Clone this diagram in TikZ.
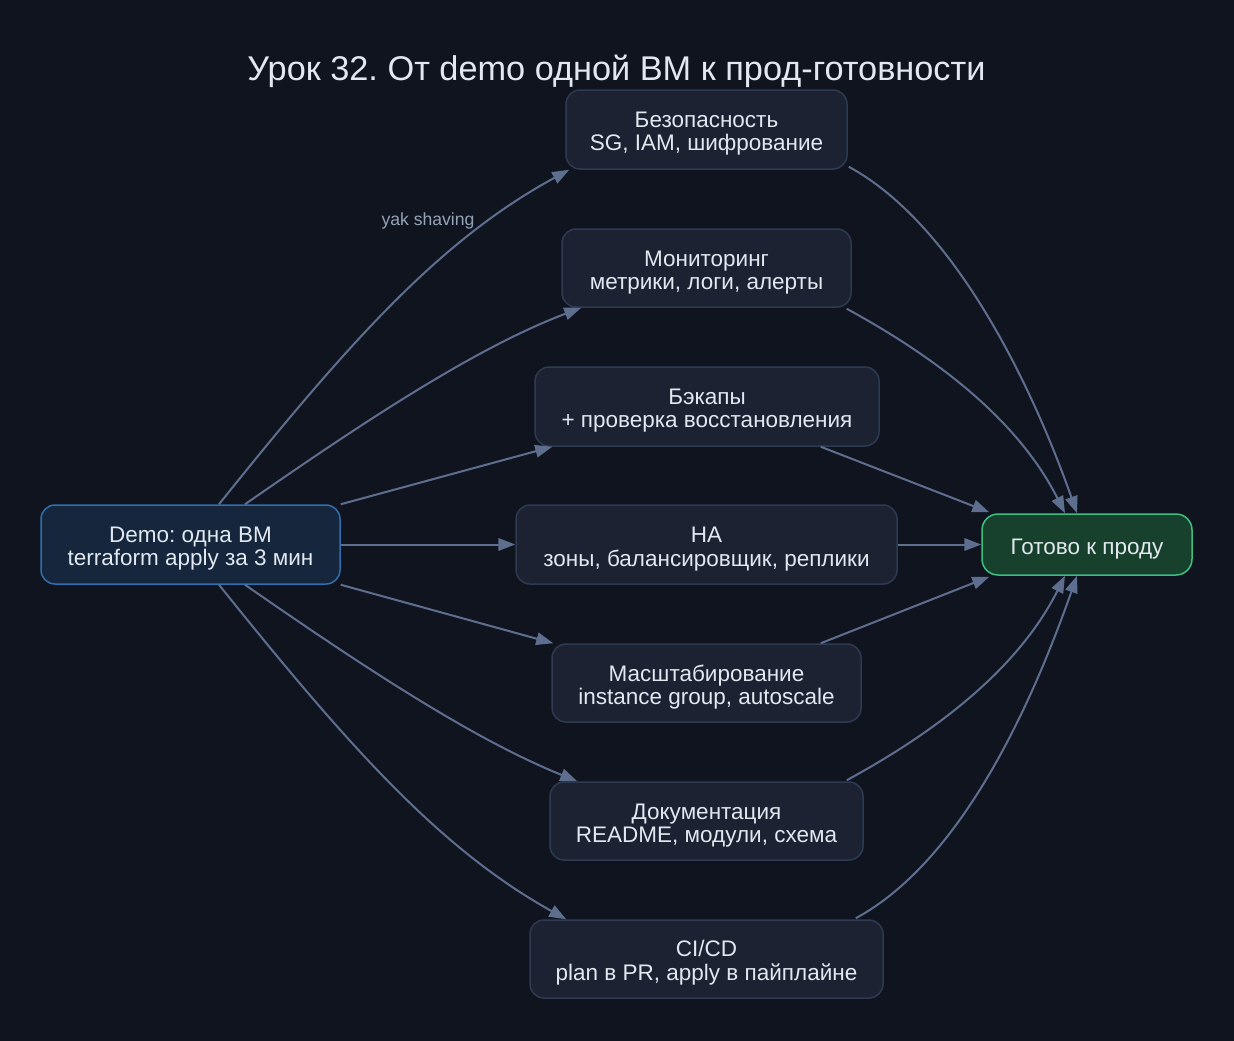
\documentclass[tikz,border=0pt]{standalone}
\usepackage{fontspec}
\setmainfont{Liberation Sans}
\usetikzlibrary{arrows.meta,calc}
\definecolor{bg}{HTML}{10141F}
\definecolor{nodefill}{HTML}{1C2232}
\definecolor{nodedraw}{HTML}{2E3A52}
\definecolor{demofill}{HTML}{15263D}
\definecolor{demodraw}{HTML}{2F6FB0}
\definecolor{donefill}{HTML}{17412C}
\definecolor{donedraw}{HTML}{3FBF7F}
\definecolor{edgecol}{HTML}{5E6E8E}
\definecolor{txt}{HTML}{E2E8F0}
\definecolor{lbl}{HTML}{94A3B8}
\newcommand{\twolines}[2]{\begin{tabular}{@{}c@{}}\rule{0pt}{26.5pt}#1\\#2\end{tabular}}
\newcommand{\oneline}[1]{\rule[-5pt]{0pt}{29.7pt}#1}
\begin{document}
\frenchspacing
\begin{tikzpicture}[x=1pt,y=-1pt,
  box/.style={draw=nodedraw,fill=nodefill,line width=1.5pt,rounded corners=14pt,
    text=txt,inner sep=0pt,
    font=\fontsize{22.5}{23.3}\selectfont\frenchspacing},
  edge/.style={draw=edgecol,line width=2pt,-{Triangle[length=17pt,width=12.5pt]}}]
\useasboundingbox[fill=bg] (0,0) rectangle (1234,1041);
\node[text=txt,font=\fontsize{34.3}{38}\selectfont\frenchspacing,anchor=base,inner sep=0pt] (title) at (616.5,81) {Урок 32. От demo одной ВМ к прод-готовности};
\node[box,draw=demodraw,fill=demofill,minimum width=299pt,minimum height=79pt] (demo) at (190.5,544.5) {\twolines{Demo: одна ВМ}{terraform apply за 3 мин}};
\node[box,minimum width=281pt,minimum height=79pt] (sec) at (706.5,129.5) {\twolines{Безопасность}{SG, IAM, шифрование}};
\node[box,minimum width=289pt,minimum height=78pt] (mon) at (706.5,268) {\twolines{Мониторинг}{метрики, логи, алерты}};
\node[box,minimum width=344pt,minimum height=79pt] (bak) at (707,406.5) {\twolines{Бэкапы}{+ проверка восстановления}};
\node[box,minimum width=381pt,minimum height=79pt] (ha) at (706.5,544.5) {\twolines{HA}{зоны, балансировщик, реплики}};
\node[box,minimum width=309pt,minimum height=78pt] (scale) at (706.5,683) {\twolines{Масштабирование}{instance group, autoscale}};
\node[box,minimum width=313pt,minimum height=78pt] (doc) at (706.5,821) {\twolines{Документация}{README, модули, схема}};
\node[box,minimum width=353pt,minimum height=78pt] (cicd) at (706.5,959) {\twolines{CI/CD}{plan в PR, apply в пайплайне}};
\node[box,draw=donedraw,fill=donefill,minimum width=210pt,minimum height=61pt,rounded corners=16pt] (done) at (1087,544.5) {\oneline{Готово к проду}};
% edges from demo
\draw[edge] ($(demo.north)+(28.5,0)$) .. controls (349,342) and (440,240) .. ($(sec.south west)+(4,0)$);
\node[font=\fontsize{17.6}{20}\selectfont,text=lbl,anchor=base,inner sep=0pt] (yak) at (428,225.7) {yak shaving};
\draw[edge] ($(demo.north)+(54.5,0)$) .. controls (355,428) and (472,349) .. ($(mon.south west)+(20,0)$);
\draw[edge] (demo.north east) -- ($(bak.south west)+(18,0)$);
\draw[edge] (demo.east) -- (ha.west);
\draw[edge] (demo.south east) -- ($(scale.north west)+(2,0)$);
\draw[edge] ($(demo.south)+(54.5,0)$) .. controls (355,661) and (470,738) .. ($(doc.north west)+(28,0)$);
\draw[edge] ($(demo.south)+(28.5,0)$) .. controls (349,747) and (440,849) .. ($(cicd.north west)+(37,0)$);
% edges to done
\draw[edge] ($(sec.south east)+(1,-3)$) .. controls (958,226) and (1035,394) .. ($(done.north)+(-10,0)$);
\draw[edge] ($(mon.south east)+(-5,1)$) .. controls (926,352) and (1015,414) .. ($(done.north)+(-22,0)$);
\draw[edge] ($(bak.south east)+(-59,0)$) -- ($(done.north west)+(8,-1)$);
\draw[edge] (ha.east) -- (done.west);
\draw[edge] ($(scale.north east)+(-41,0)$) -- ($(done.south west)+(8,1)$);
\draw[edge] ($(doc.north east)+(-17,-1)$) .. controls (926,737) and (1015,675) .. ($(done.south)+(-22,0)$);
\draw[edge] ($(cicd.north east)+(-28,-1)$) .. controls (965,859) and (1035,695) .. ($(done.south)+(-10,0)$);
\end{tikzpicture}
\end{document}
